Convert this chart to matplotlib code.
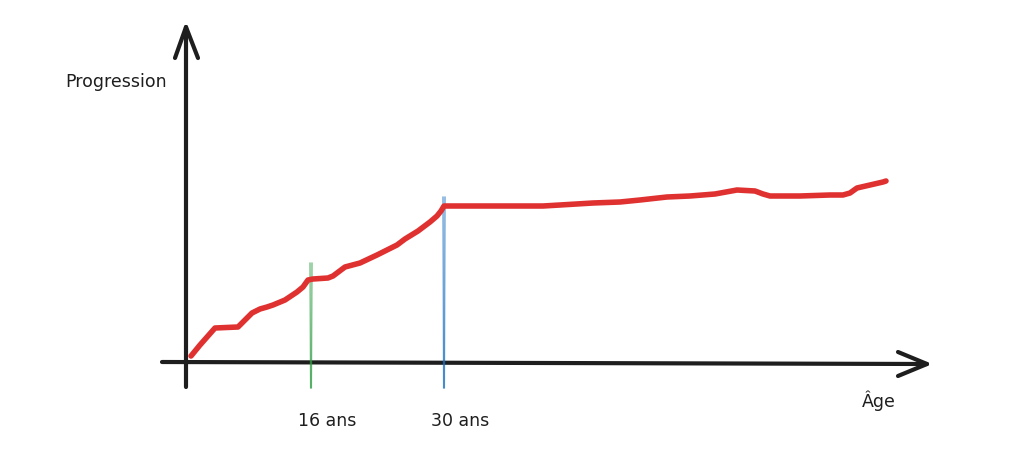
import matplotlib.pyplot as plt
import numpy as np

# red curve (pixel coords, y downwards)
curve_x = [191, 200, 215, 238, 245, 252, 260, 267, 273, 285, 297, 303, 308, 313,
           328, 333, 337, 345, 360, 377, 387, 397, 405, 418, 430, 437, 441, 444,
           480, 520, 543, 560, 593, 620, 640, 667, 690, 715, 737, 755, 763, 770,
           800, 830, 843, 850, 857, 870, 883, 886]
curve_y = [356, 345, 328, 327, 320, 313, 309, 307, 305, 300, 292, 287, 280, 279,
           278, 276, 273, 267, 263, 255, 250, 245, 239, 231, 222, 216, 211, 206,
           206, 206, 206, 205, 203, 202, 200, 197, 196, 194, 190, 191, 194, 196,
           196, 195, 195, 193, 188, 185, 182, 181]

marker_labels = ['16 ans', '30 ans']
marker_x = [311, 444]
marker_top = [263, 197]
marker_colors = ['#2f9e44', '#1971c2']

ink = '#1e1e1e'

fig = plt.figure(figsize=(10.2, 4.73), dpi=100)
ax = fig.add_axes([0, 0, 1, 1])
ax.set_xlim(0, 1020)
ax.set_ylim(473, 0)
ax.axis('off')

# axes drawn as arrows
ax.plot([186, 186], [387, 27], color=ink, lw=3, solid_capstyle='round')
ax.plot([175, 186, 198], [58, 27, 58], color=ink, lw=3,
        solid_capstyle='round', solid_joinstyle='round')
ax.plot([162, 927], [362, 364], color=ink, lw=3, solid_capstyle='round')
ax.plot([898, 927, 898], [352, 364, 376], color=ink, lw=3,
        solid_capstyle='round', solid_joinstyle='round')

# age markers (double thin strokes)
for lx, top, c in zip(marker_x, marker_top, marker_colors):
    ax.plot([lx - 1, lx - 0.5], [top, 388], color=c, lw=0.8, alpha=0.8)
    ax.plot([lx + 1, lx + 0.5], [top, 388], color=c, lw=0.8, alpha=0.8)

ax.plot(curve_x, curve_y, color='#e03131', lw=4,
        solid_capstyle='round', solid_joinstyle='round')

for lab, lx in zip(marker_labels, marker_x):
    ax.text(lx + 16, 421, lab, ha='center', va='center', fontsize=12.5, color=ink)

ax.text(116, 82, 'Progression', ha='center', va='center', fontsize=12.5, color=ink)
ax.text(879, 401, 'Âge', ha='center', va='center', fontsize=12.5, color=ink)

plt.savefig('out.png', dpi=100)
